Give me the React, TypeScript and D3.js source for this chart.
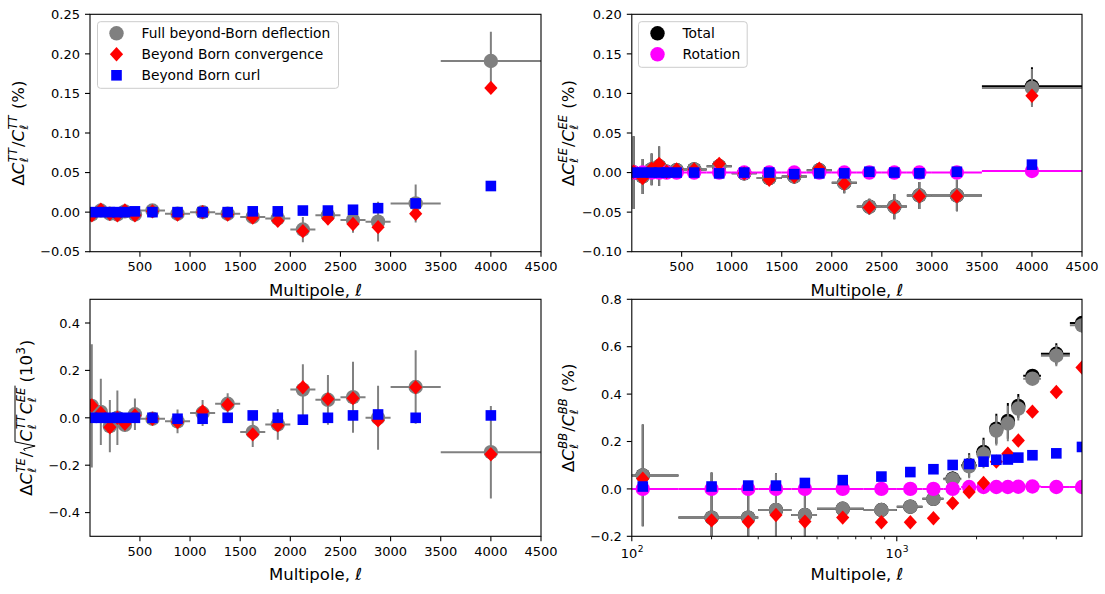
import React from 'react';
import * as d3 from 'd3';

// ---------- multipole bins (linear panels) ----------
const ELL = [20, 110, 200, 275, 350, 450, 625, 875, 1125, 1375, 1625, 1875, 2125, 2375, 2625, 2875, 3250, 4000];
const ELL_LO = [2, 50, 150, 250, 300, 400, 500, 750, 1000, 1250, 1500, 1750, 2000, 2250, 2500, 2750, 3000, 3500];
const ELL_HI = [50, 150, 250, 300, 400, 500, 750, 1000, 1250, 1500, 1750, 2000, 2250, 2500, 2750, 3000, 3500, 4500];

// ---------- multipole bins (BB log panel) ----------
const ELL_BB = [110, 200, 275, 350, 450, 625, 875, 1125, 1375, 1625, 1875, 2125, 2375, 2625, 2875, 3250, 4000, 5000];
const ELL_BB_LO = [50, 150, 250, 300, 400, 500, 750, 1000, 1250, 1500, 1750, 2000, 2250, 2500, 2750, 3000, 3500, 4500];
const ELL_BB_HI = [150, 250, 300, 400, 500, 750, 1000, 1250, 1500, 1750, 2000, 2250, 2500, 2750, 3000, 3500, 4500, 5500];

// ---------- TT (%) ----------
const TT_FULL = [-0.003, 0.002, -0.002, -0.003, 0.001, -0.003, 0.002, -0.002, 0.0, -0.002, -0.006, -0.008, -0.022, -0.004, -0.010, -0.012, 0.011, 0.191];
const TT_FULL_ERR = [0.004, 0.004, 0.003, 0.003, 0.003, 0.003, 0.003, 0.004, 0.003, 0.004, 0.005, 0.010, 0.016, 0.009, 0.016, 0.025, 0.024, 0.037];
const TT_CONV = [-0.004, 0.003, -0.002, -0.004, 0.002, -0.004, 0.001, -0.003, 0.0, -0.003, -0.007, -0.011, -0.024, -0.008, -0.015, -0.019, -0.002, 0.157];
const TT_CURL = [0.0, 0.0, 0.0, 0.0, 0.0, 0.001, 0.0, 0.0, 0.0, 0.0, 0.001, 0.001, 0.002, 0.002, 0.003, 0.005, 0.011, 0.033];

// ---------- EE (%) ----------
const EE_TOTAL = [0.0, -0.005, 0.004, 0.008, 0.001, 0.003, 0.004, 0.008, -0.001, -0.007, -0.005, 0.003, -0.013, -0.043, -0.043, -0.029, -0.029, 0.109];
const EE_FULL = [0.0, -0.005, 0.004, 0.008, 0.001, 0.003, 0.004, 0.008, -0.001, -0.007, -0.005, 0.003, -0.013, -0.043, -0.043, -0.029, -0.029, 0.107];
const EE_FULL_ERR = [0.046, 0.022, 0.020, 0.025, 0.005, 0.004, 0.004, 0.004, 0.003, 0.004, 0.004, 0.005, 0.013, 0.010, 0.016, 0.017, 0.020, 0.024];
const EE_CONV = [0.001, -0.007, 0.005, 0.011, 0.001, 0.004, 0.004, 0.011, -0.001, -0.009, -0.005, 0.005, -0.014, -0.044, -0.044, -0.030, -0.030, 0.097];
const EE_CURL = [0.0, 0.0, 0.0, 0.0, 0.0, 0.0, 0.0, -0.001, 0.0, 0.0, -0.002, -0.001, -0.001, 0.001, 0.0, -0.001, 0.001, 0.010];
const EE_ROT = [0.0, 0.0, 0.0, 0.0, 0.0, 0.0, 0.0, 0.0, 0.0, 0.0, 0.0, 0.0, 0.0, 0.0, 0.0, 0.0, 0.0, 0.002];

// ---------- TE (10^3) ----------
const TE_FULL = [0.05, 0.025, -0.035, 0.0, -0.03, 0.015, -0.004, -0.015, 0.02, 0.059, -0.06, -0.028, 0.119, 0.076, 0.087, 0.0, 0.13, -0.145];
const TE_FULL_ERR = [0.26, 0.14, 0.11, 0.115, 0.03, 0.066, 0.02, 0.05, 0.055, 0.045, 0.063, 0.065, 0.107, 0.105, 0.15, 0.135, 0.155, 0.195];
const TE_CONV = [0.052, 0.02, -0.04, 0.0, -0.025, 0.01, -0.004, -0.018, 0.027, 0.055, -0.070, -0.032, 0.129, 0.079, 0.083, -0.011, 0.129, -0.154];
const TE_CURL = [0.0, 0.0, 0.0, 0.0, 0.0, 0.0, 0.0, -0.004, -0.004, 0.0, 0.010, 0.0, -0.008, 0.0, 0.010, 0.014, 0.0, 0.010];

// ---------- BB (%) ----------
const BB_TOTAL = [0.057, -0.121, -0.121, -0.089, -0.110, -0.084, -0.089, -0.075, -0.042, 0.043, 0.100, 0.156, 0.254, 0.287, 0.350, 0.477, 0.570, 0.700];
const BB_FULL = [0.057, -0.121, -0.121, -0.089, -0.110, -0.084, -0.089, -0.075, -0.042, 0.041, 0.095, 0.147, 0.246, 0.276, 0.339, 0.465, 0.562, 0.690];
const BB_FULL_ERR = [0.215, 0.19, 0.154, 0.155, 0.11, 0.02, 0.03, 0.02, 0.015, 0.03, 0.05, 0.06, 0.063, 0.075, 0.05, 0.02, 0.045, 0.03];
const BB_CONV = [0.043, -0.133, -0.139, -0.110, -0.138, -0.121, -0.141, -0.141, -0.124, -0.060, -0.013, 0.025, 0.115, 0.148, 0.204, 0.326, 0.409, 0.512];
const BB_CURL = [0.010, 0.010, 0.014, 0.014, 0.025, 0.037, 0.052, 0.071, 0.083, 0.101, 0.105, 0.115, 0.123, 0.124, 0.132, 0.142, 0.150, 0.177];
const BB_ROT = [0.0, 0.0, 0.0, 0.0, 0.0, 0.0, 0.0, 0.0, 0.0, 0.0, 0.008, 0.008, 0.008, 0.008, 0.009, 0.010, 0.008, 0.008];

// ---------- ticks ----------
const LIN_XTICKS = [500, 1000, 1500, 2000, 2500, 3000, 3500, 4000, 4500];
const LOG_XTICKS_MAJOR = [100, 1000];
const LOG_XTICKS_MINOR = [200, 300, 400, 500, 600, 700, 800, 900, 2000, 3000, 4000];
const TT_YTICKS = [-0.05, 0.0, 0.05, 0.1, 0.15, 0.2, 0.25];
const EE_YTICKS = [-0.1, -0.05, 0.0, 0.05, 0.1, 0.15, 0.2];
const TE_YTICKS = [-0.4, -0.2, 0.0, 0.2, 0.4];
const BB_YTICKS = [-0.2, 0.0, 0.2, 0.4, 0.6, 0.8];

const LEGEND_TT = ['Full beyond-Born deflection', 'Beyond Born convergence', 'Beyond Born curl'];
const LEGEND_EE = ['Total', 'Rotation'];

const FONT = 'DejaVu Sans';
const GRAY = '#808080';
const F_TICK = 13;
const F_LABEL = 16.5;
const F_LEG = 13.8;

let _ctx: CanvasRenderingContext2D | null = null;
function textWidth(s: string, size: number, italic = false): number {
  if (!_ctx && typeof document !== 'undefined') {
    _ctx = document.createElement('canvas').getContext('2d');
  }
  if (!_ctx) return s.length * size * 0.6;
  _ctx.font = `${italic ? 'italic ' : ''}${size}px "${FONT}"`;
  return _ctx.measureText(s).width;
}

type Shape = 'circle' | 'diamond' | 'square';

function Marker({ shape, x, y, color }: { shape: Shape; x: number; y: number; color: string }) {
  if (shape === 'circle') return <circle cx={x} cy={y} r={7.2} fill={color} />;
  if (shape === 'diamond')
    return <path d={`M${x},${y - 7.2}L${x + 6.6},${y}L${x},${y + 7.2}L${x - 6.6},${y}Z`} fill={color} />;
  return <rect x={x - 5.3} y={y - 5.3} width={10.6} height={10.6} fill={color} />;
}

type Series = {
  x: number[];
  y: number[];
  shape?: Shape;
  color: string;
  yerr?: number[];
  xlo?: number[];
  xhi?: number[];
  errColor?: string;
  errWidth?: number;
};

type Tok = { t?: string; it?: boolean; sup?: string; sub?: string; sqrt?: 'start' | 'end'; gap?: number };

function MathLabel({ toks, x, y, size }: { toks: Tok[]; x: number; y: number; size: number }) {
  const ss = size * 0.7;
  const items: { s: string; x: number; dy: number; size: number; it: boolean }[] = [];
  const paths: string[] = [];
  let cx = 0;
  let sqrtX = 0;
  const rw = size * 0.62;
  for (const tk of toks) {
    if (tk.gap !== undefined) {
      cx += tk.gap;
    } else if (tk.sqrt === 'start') {
      sqrtX = cx;
      cx += rw;
    } else if (tk.sqrt === 'end') {
      const top = -size * 1.0;
      paths.push(
        `M${sqrtX + 0.5},${-size * 0.38}L${sqrtX + 2.6},${-size * 0.48}L${sqrtX + 5.6},${size * 0.22}L${sqrtX + rw - 0.5},${top}L${cx + 1},${top}`
      );
      cx += 1;
    } else if (tk.t !== undefined) {
      items.push({ s: tk.t, x: cx, dy: 0, size, it: !!tk.it });
      cx += textWidth(tk.t, size, !!tk.it);
    } else {
      let w = 0;
      if (tk.sup) {
        const it = /[A-Za-z]/.test(tk.sup);
        items.push({ s: tk.sup, x: cx + 0.5, dy: -size * 0.42, size: ss, it });
        w = Math.max(w, textWidth(tk.sup, ss, it));
      }
      if (tk.sub) {
        items.push({ s: tk.sub, x: cx + 0.5, dy: size * 0.26, size: ss, it: true });
        w = Math.max(w, textWidth(tk.sub, ss, true));
      }
      cx += w + 1.5;
    }
  }
  const off = -cx / 2;
  return (
    <g transform={`translate(${x},${y}) rotate(-90)`}>
      {items.map((it, i) => (
        <text
          key={i}
          x={it.x + off}
          y={it.dy}
          fontSize={it.size}
          fontStyle={it.it ? 'italic' : 'normal'}
          fontFamily={FONT}
          fill="#000"
          style={{ whiteSpace: 'pre' }}
        >
          {it.s}
        </text>
      ))}
      {paths.map((p, i) => (
        <path key={'p' + i} d={p} transform={`translate(${off},0)`} fill="none" stroke="#000" strokeWidth={1} />
      ))}
    </g>
  );
}

type PanelProps = {
  id: string;
  l: number;
  r: number;
  t: number;
  b: number;
  log?: boolean;
  xDomain: [number, number];
  yDomain: [number, number];
  yTicks: number[];
  yFmt: (v: number) => string;
  series: Series[];
};

function Panel(p: PanelProps) {
  const x = p.log
    ? d3.scaleLog().domain(p.xDomain).range([p.l, p.r])
    : d3.scaleLinear().domain(p.xDomain).range([p.l, p.r]);
  const y = d3.scaleLinear().domain(p.yDomain).range([p.b, p.t]);
  const clip = `clip-${p.id}`;
  return (
    <g>
      <defs>
        <clipPath id={clip}>
          <rect x={p.l} y={p.t} width={p.r - p.l} height={p.b - p.t} />
        </clipPath>
      </defs>
      <g clipPath={`url(#${clip})`}>
        {p.series.map((s, si) => (
          <g key={si}>
            {s.x.map((xv, i) => {
              const px = x(xv);
              const py = y(s.y[i]);
              const ec = s.errColor || s.color;
              const ew = s.errWidth || 2;
              return (
                <g key={i}>
                  {s.xlo && s.xhi && (
                    <line
                      x1={x(s.xlo[i])}
                      x2={x(s.xhi[i])}
                      y1={py}
                      y2={py}
                      stroke={ec}
                      strokeWidth={ew}
                    />
                  )}
                  {s.yerr && (
                    <line
                      x1={px}
                      x2={px}
                      y1={y(s.y[i] - s.yerr[i])}
                      y2={y(s.y[i] + s.yerr[i])}
                      stroke={ec}
                      strokeWidth={ew}
                    />
                  )}
                </g>
              );
            })}
            {s.shape &&
              s.x.map((xv, i) => <Marker key={'m' + i} shape={s.shape!} x={x(xv)} y={y(s.y[i])} color={s.color} />)}
          </g>
        ))}
      </g>
      <rect x={p.l} y={p.t} width={p.r - p.l} height={p.b - p.t} fill="none" stroke="#000" strokeWidth={1.1} />
      {p.yTicks.map((v, i) => (
        <g key={'yt' + i}>
          <line x1={p.l - 5} x2={p.l} y1={y(v)} y2={y(v)} stroke="#000" strokeWidth={1.1} />
          <text x={p.l - 10} y={y(v) + 4.7} textAnchor="end" fontSize={F_TICK} fontFamily={FONT} fill="#000">
            {p.yFmt(v)}
          </text>
        </g>
      ))}
      {!p.log &&
        LIN_XTICKS.map((v, i) => (
          <g key={'xt' + i}>
            <line x1={x(v)} x2={x(v)} y1={p.b} y2={p.b + 5} stroke="#000" strokeWidth={1.1} />
            <text x={x(v)} y={p.b + 19.7} textAnchor="middle" fontSize={F_TICK} fontFamily={FONT} fill="#000">
              {String(v)}
            </text>
          </g>
        ))}
      {p.log && (
        <g>
          {LOG_XTICKS_MINOR.map((v, i) => (
            <line key={'mn' + i} x1={x(v)} x2={x(v)} y1={p.b} y2={p.b + 3} stroke="#000" strokeWidth={0.9} />
          ))}
          {LOG_XTICKS_MAJOR.map((v, i) => {
            const exp = String(Math.round(Math.log10(v)));
            const w10 = textWidth('10', F_TICK);
            const we = textWidth(exp, F_TICK * 0.7);
            const x0 = x(v) - (w10 + we) / 2;
            return (
              <g key={'mj' + i}>
                <line x1={x(v)} x2={x(v)} y1={p.b} y2={p.b + 5} stroke="#000" strokeWidth={1.1} />
                <text x={x0} y={p.b + 22} fontSize={F_TICK} fontFamily={FONT} fill="#000">
                  10
                </text>
                <text x={x0 + w10 + 0.5} y={p.b + 15.5} fontSize={F_TICK * 0.7} fontFamily={FONT} fill="#000">
                  {exp}
                </text>
              </g>
            );
          })}
        </g>
      )}
      <text x={(p.l + p.r) / 2} y={p.b + 44} textAnchor="middle" fontSize={F_LABEL} fontFamily={FONT} fill="#000">
        Multipole, <tspan fontStyle="italic">ℓ</tspan>
      </text>
    </g>
  );
}

function Legend({
  x0,
  y0,
  w,
  h,
  rows,
}: {
  x0: number;
  y0: number;
  w: number;
  h: number;
  rows: { label: string; shape: Shape; color: string; my: number }[];
}) {
  return (
    <g>
      <rect x={x0} y={y0} width={w} height={h} rx={3} ry={3} fill="#fff" fillOpacity={0.8} stroke="#cccccc" strokeWidth={1} />
      {rows.map((r, i) => (
        <g key={i}>
          <Marker shape={r.shape} x={x0 + 19} y={r.my} color={r.color} />
          <text x={x0 + 44} y={r.my + 5} fontSize={F_LEG} fontFamily={FONT} fill="#000">
            {r.label}
          </text>
        </g>
      ))}
    </g>
  );
}

const fmt2 = d3.format('.2f');
const fmt1 = d3.format('.1f');

export default function App() {
  const TL = { l: 90, r: 541, t: 14.3, b: 251.7 };
  const TR = { l: 631.8, r: 1082, t: 14.3, b: 251.7 };
  const BL = { l: 90, r: 541, t: 299.3, b: 536.3 };
  const BR = { l: 631.8, r: 1082, t: 299.3, b: 536.3 };

  const ttSeries: Series[] = [
    { x: ELL, y: TT_FULL, yerr: TT_FULL_ERR, xlo: ELL_LO, xhi: ELL_HI, shape: 'circle', color: GRAY },
    { x: ELL, y: TT_CONV, shape: 'diamond', color: 'red' },
    { x: ELL, y: TT_CURL, shape: 'square', color: 'blue' },
  ];
  const eeSeries: Series[] = [
    { x: ELL, y: EE_TOTAL, yerr: EE_FULL_ERR, xlo: ELL_LO, xhi: ELL_HI, shape: 'circle', color: '#000' },
    { x: ELL, y: EE_FULL, yerr: EE_FULL_ERR, xlo: ELL_LO, xhi: ELL_HI, shape: 'circle', color: GRAY },
    { x: ELL, y: EE_ROT, xlo: ELL_LO, xhi: ELL_HI, shape: 'circle', color: '#ff00ff' },
    { x: ELL, y: EE_CONV, shape: 'diamond', color: 'red' },
    { x: ELL, y: EE_CURL, shape: 'square', color: 'blue' },
  ];
  const teSeries: Series[] = [
    { x: ELL, y: TE_FULL, yerr: TE_FULL_ERR, xlo: ELL_LO, xhi: ELL_HI, shape: 'circle', color: GRAY },
    { x: ELL, y: TE_CONV, shape: 'diamond', color: 'red' },
    { x: ELL, y: TE_CURL, shape: 'square', color: 'blue' },
  ];
  const bbSeries: Series[] = [
    { x: ELL_BB, y: BB_TOTAL, yerr: BB_FULL_ERR, xlo: ELL_BB_LO, xhi: ELL_BB_HI, shape: 'circle', color: '#000' },
    { x: ELL_BB, y: BB_FULL, yerr: BB_FULL_ERR, xlo: ELL_BB_LO, xhi: ELL_BB_HI, shape: 'circle', color: GRAY },
    { x: ELL_BB, y: BB_ROT, xlo: ELL_BB_LO, xhi: ELL_BB_HI, shape: 'circle', color: '#ff00ff' },
    { x: ELL_BB, y: BB_CONV, shape: 'diamond', color: 'red' },
    { x: ELL_BB, y: BB_CURL, shape: 'square', color: 'blue' },
  ];

  const SP = textWidth(' ', F_LABEL);

  return (
    <svg
      width={1105}
      height={594}
      viewBox="0 0 1105 594"
      style={{ position: 'absolute', left: 0, top: 0, background: '#fff' }}
    >
      <rect x={0} y={0} width={1105} height={594} fill="#fff" />
      <Panel id="tt" {...TL} xDomain={[2, 4500]} yDomain={[-0.05, 0.25]} yTicks={TT_YTICKS} yFmt={fmt2} series={ttSeries} />
      <Panel id="ee" {...TR} xDomain={[2, 4500]} yDomain={[-0.1, 0.2]} yTicks={EE_YTICKS} yFmt={fmt2} series={eeSeries} />
      <Panel id="te" {...BL} xDomain={[2, 4500]} yDomain={[-0.5, 0.5]} yTicks={TE_YTICKS} yFmt={fmt1} series={teSeries} />
      <Panel id="bb" {...BR} log xDomain={[100, 5000]} yDomain={[-0.2, 0.8]} yTicks={BB_YTICKS} yFmt={fmt1} series={bbSeries} />

      <Legend
        x0={97.5}
        y0={21.7}
        w={241}
        h={66.6}
        rows={[
          { label: LEGEND_TT[0], shape: 'circle', color: GRAY, my: 33.3 },
          { label: LEGEND_TT[1], shape: 'diamond', color: 'red', my: 54.3 },
          { label: LEGEND_TT[2], shape: 'square', color: 'blue', my: 75.3 },
        ]}
      />
      <Legend
        x0={638.5}
        y0={21.7}
        w={108.7}
        h={45.6}
        rows={[
          { label: LEGEND_EE[0], shape: 'circle', color: '#000', my: 33.3 },
          { label: LEGEND_EE[1], shape: 'circle', color: '#ff00ff', my: 54.3 },
        ]}
      />

      <MathLabel
        x={23.5}
        y={(TL.t + TL.b) / 2}
        size={F_LABEL}
        toks={[{ t: 'Δ' }, { t: 'C', it: true }, { sup: 'TT', sub: 'ℓ' }, { t: '/' }, { t: 'C', it: true }, { sup: 'TT', sub: 'ℓ' }, { gap: SP }, { t: '(%)' }]}
      />
      <MathLabel
        x={573.5}
        y={(TR.t + TR.b) / 2}
        size={F_LABEL}
        toks={[{ t: 'Δ' }, { t: 'C', it: true }, { sup: 'EE', sub: 'ℓ' }, { t: '/' }, { t: 'C', it: true }, { sup: 'EE', sub: 'ℓ' }, { gap: SP }, { t: '(%)' }]}
      />
      <MathLabel
        x={31.5}
        y={(BL.t + BL.b) / 2}
        size={F_LABEL}
        toks={[
          { t: 'Δ' },
          { t: 'C', it: true },
          { sup: 'TE', sub: 'ℓ' },
          { t: '/' },
          { sqrt: 'start' },
          { t: 'C', it: true },
          { sup: 'TT', sub: 'ℓ' },
          { t: 'C', it: true },
          { sup: 'EE', sub: 'ℓ' },
          { sqrt: 'end' },
          { gap: SP * 0.6 },
          { t: '(10' },
          { sup: '3' },
          { t: ')' },
        ]}
      />
      <MathLabel
        x={573.5}
        y={(BR.t + BR.b) / 2}
        size={F_LABEL}
        toks={[{ t: 'Δ' }, { t: 'C', it: true }, { sup: 'BB', sub: 'ℓ' }, { t: '/' }, { t: 'C', it: true }, { sup: 'BB', sub: 'ℓ' }, { gap: SP }, { t: '(%)' }]}
      />
    </svg>
  );
}
